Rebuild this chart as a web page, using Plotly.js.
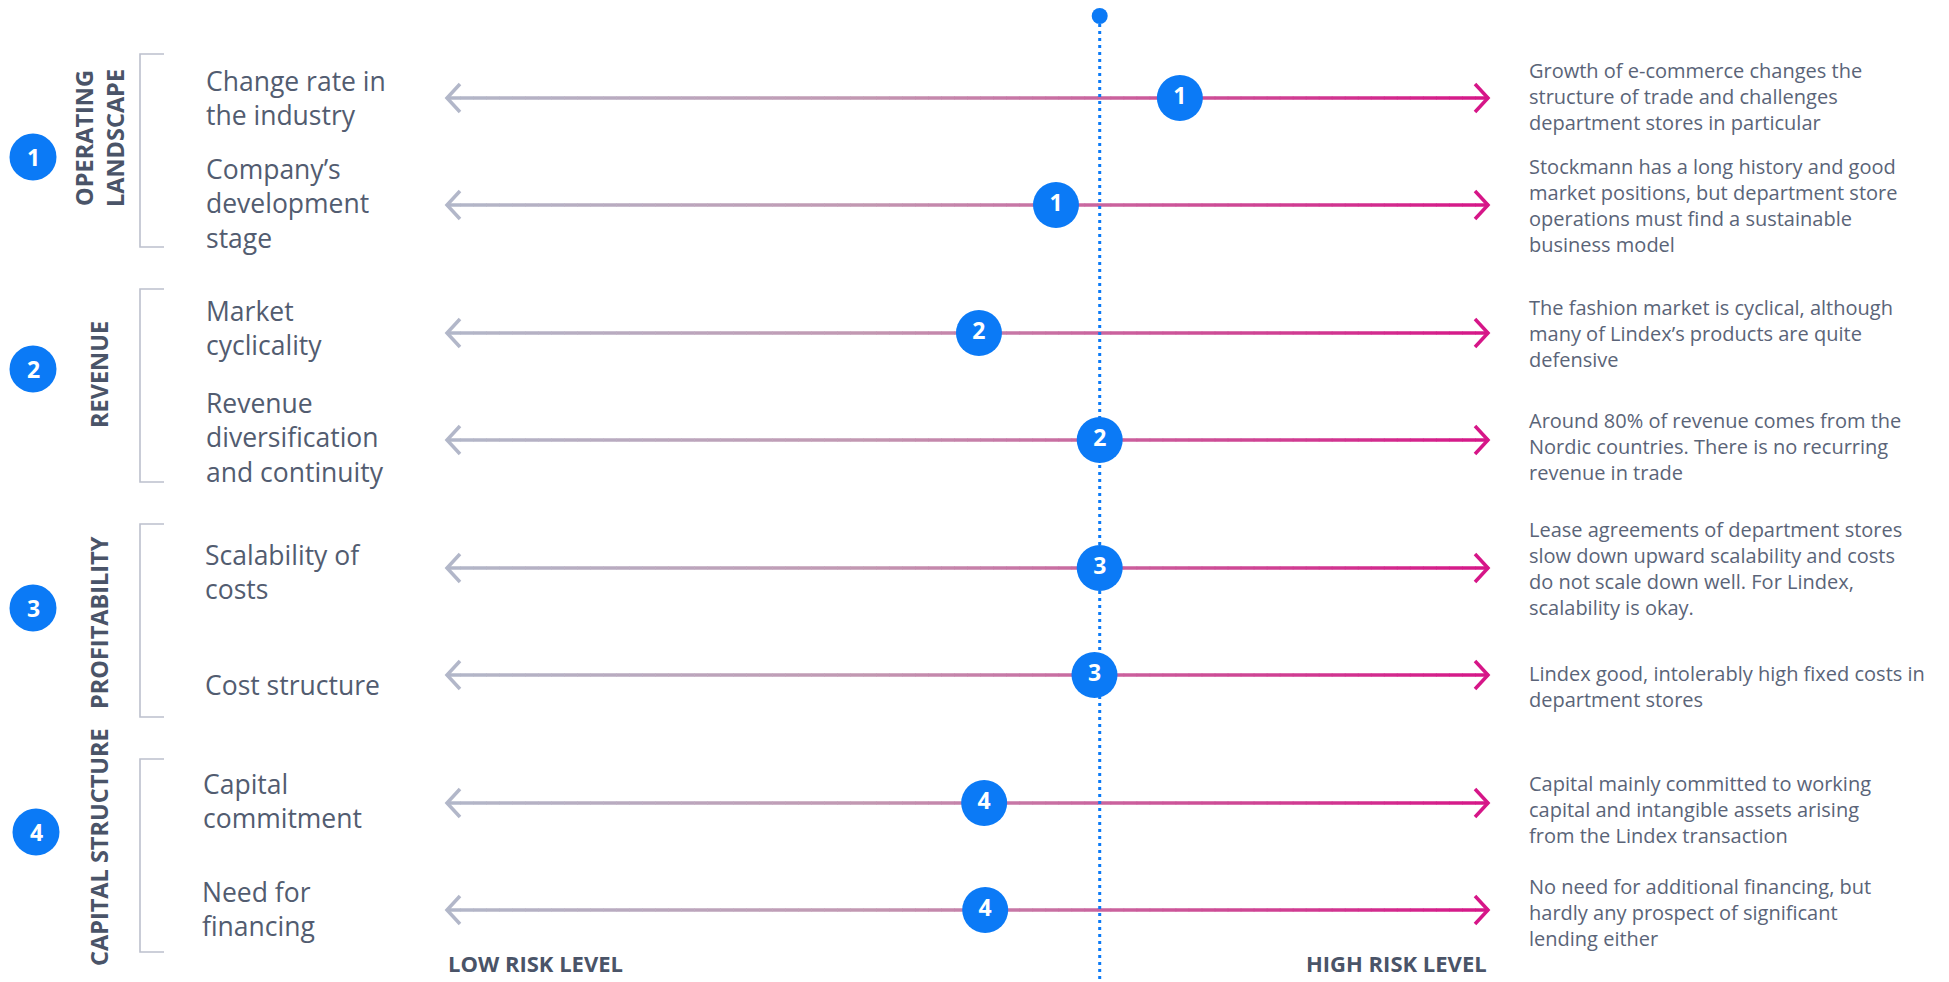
<!DOCTYPE html>
<html>
<head>
<meta charset="utf-8">
<script src="https://cdn.plot.ly/plotly-3.0.1.min.js"></script>
<style>
  html, body { margin: 0; padding: 0; background: #ffffff; }
  #chart { width: 1949px; height: 982px; }
</style>
</head>
<body>
<div id="chart"></div>
<script>
// ---------------- DATA ----------------
const groupNames = ['OPERATING<br>LANDSCAPE', 'REVENUE', 'PROFITABILITY', 'CAPITAL STRUCTURE'];
const groupNumbers = ['1', '2', '3', '4'];
const factors = [
  'Change rate in<br>the industry',
  'Company’s<br>development<br>stage',
  'Market<br>cyclicality',
  'Revenue<br>diversification<br>and continuity',
  'Scalability of<br>costs',
  'Cost structure',
  'Capital<br>commitment',
  'Need for<br>financing'
];
const factorGroup = [0, 0, 1, 1, 2, 2, 3, 3];
// risk level on a 0 (low) .. 100 (high) scale
const riskLevel = [70.4, 58.5, 51.1, 62.7, 62.7, 62.2, 51.6, 51.7];
const referenceLevel = 62.7;
const descriptions = [
  'Growth of e-commerce changes the<br>structure of trade and challenges<br>department stores in particular',
  'Stockmann has a long history and good<br>market positions, but department store<br>operations must find a sustainable<br>business model',
  'The fashion market is cyclical, although<br>many of Lindex’s products are quite<br>defensive',
  'Around 80% of revenue comes from the<br>Nordic countries. There is no recurring<br>revenue in trade',
  'Lease agreements of department stores<br>slow down upward scalability and costs<br>do not scale down well. For Lindex,<br>scalability is okay.',
  'Lindex good, intolerably high fixed costs in<br>department stores',
  'Capital mainly committed to working<br>capital and intangible assets arising<br>from the Lindex transaction',
  'No need for additional financing, but<br>hardly any prospect of significant<br>lending either'
];
const scaleLabels = ['LOW RISK LEVEL', 'HIGH RISK LEVEL'];
const scaleMin = 0;
const scaleMax = 100;

// ---------------- LAYOUT CONSTANTS ----------------
const W = 1949, H = 982;
const ARROW_L = 447, ARROW_R = 1488;             // pixel ends of the risk scale
const S = (ARROW_R - ARROW_L) / (scaleMax - scaleMin); // px per unit
const FONT = '"Open Sans", Lato, sans-serif';
const TEXT = '#525c70';
const BLUE = '#0b7af6';
const px = v => v / W;
const rowInGroup = [];
{ const seen = {}; factorGroup.forEach((g) => { seen[g] = (seen[g] || 0); rowInGroup.push(seen[g]); seen[g]++; }); }
const rowY = factorGroup.map((g, i) => 98 + g * 235 + rowInGroup[i] * 107);
const labelShift = [0, -2, -5, -3, 4, 10, -2, -1];
const labelX = [204, 204, 204, 204, 203, 203, 201, 200];
const descShift  = [-2, 0, 0, 6, 0, 11, 6, 2];
const groupLabelY = [138, 375, 623, 847];
const groupCircleY = [157, 369, 608, 832];
const groupCircleX = [33, 33, 33, 36];

const stops = [
  [0.0, [178, 183, 201]],
  [0.4, [194, 152, 178]],
  [0.7, [204, 84, 152]],
  [1.0, [214, 22, 136]]
];
function colorAt(t) {
  for (let k = 0; k < stops.length - 1; k++) {
    const [t0, c0] = stops[k], [t1, c1] = stops[k + 1];
    if (t <= t1) {
      const f = (t - t0) / (t1 - t0);
      const c = c0.map((v, j) => Math.round(v + (c1[j] - v) * f));
      return `rgb(${c[0]},${c[1]},${c[2]})`;
    }
  }
  const c = stops[stops.length - 1][1];
  return `rgb(${c[0]},${c[1]},${c[2]})`;
}

const shapes = [];
const annotations = [];
const N = 80;
rowY.forEach((y, i) => {
  for (let k = 0; k < N; k++) {
    const a = scaleMin + (scaleMax - scaleMin) * k / N;
    const b = scaleMin + (scaleMax - scaleMin) * (k + 1) / N;
    shapes.push({type: 'line', xref: 'x', yref: 'y', x0: a, x1: b + 0.05, y0: y, y1: y,
      line: {color: colorAt((k + 0.5) / N), width: 3.5}, layer: 'below'});
  }
  const d = 13 / S;
  shapes.push({type: 'path', xref: 'x', yref: 'y', layer: 'below',
    path: `M ${scaleMin + d} ${y - 14} L ${scaleMin} ${y} L ${scaleMin + d} ${y + 14}`,
    line: {color: colorAt(0), width: 3.5}});
  shapes.push({type: 'path', xref: 'x', yref: 'y', layer: 'below',
    path: `M ${scaleMax - d} ${y - 14} L ${scaleMax} ${y} L ${scaleMax - d} ${y + 14}`,
    line: {color: colorAt(1), width: 3.5}});

  annotations.push({xref: 'paper', yref: 'y', x: px(labelX[i]), y: y + labelShift[i], xanchor: 'left', yanchor: 'middle',
    align: 'left', text: factors[i], showarrow: false, font: {family: FONT, size: 26.5, color: TEXT}});
  annotations.push({xref: 'paper', yref: 'y', x: px(1527), y: y + descShift[i], xanchor: 'left', yanchor: 'middle',
    align: 'left', text: descriptions[i], showarrow: false, font: {family: FONT, size: 20, color: '#5a6478'}});
});

// reference dotted line + top dot
shapes.push({type: 'line', xref: 'x', yref: 'y', x0: referenceLevel, x1: referenceLevel, y0: 24, y1: H,
  line: {color: BLUE, width: 3, dash: '3px,4px'}, layer: 'below'});
shapes.push({type: 'circle', xref: 'x', yref: 'y', xsizemode: 'pixel', xanchor: referenceLevel,
  x0: -8, x1: 8, y0: 8, y1: 24, fillcolor: BLUE, line: {width: 0}, layer: 'below'});

// group brackets, circles, labels
groupNames.forEach((name, g) => {
  const ys = rowY.filter((_, i) => factorGroup[i] === g);
  const top = Math.min(...ys) - 44, bot = Math.max(...ys) + 42;
  shapes.push({type: 'path', xref: 'paper', yref: 'y',
    path: `M ${px(164)} ${top} L ${px(140)} ${top} L ${px(140)} ${bot} L ${px(164)} ${bot}`,
    line: {color: '#bcc0cd', width: 1.6}});
  const cx = groupCircleX[g], cy = groupCircleY[g], r = 23.5;
  shapes.push({type: 'circle', xref: 'paper', yref: 'y', x0: px(cx - r), x1: px(cx + r), y0: cy - r, y1: cy + r,
    fillcolor: BLUE, line: {width: 0}});
  annotations.push({xref: 'paper', yref: 'y', x: px(cx), y: cy, xanchor: 'center', yanchor: 'middle',
    text: '<b>' + groupNumbers[g] + '</b>', showarrow: false, font: {family: FONT, size: 23, color: '#ffffff'}});
  annotations.push({xref: 'paper', yref: 'y', x: px(99), y: groupLabelY[g], xanchor: 'center', yanchor: 'middle',
    textangle: -90, text: '<b>' + name + '</b>', showarrow: false, font: {family: FONT, size: 23.5, color: '#4a5468'}});
});

// scale labels
annotations.push({xref: 'x', yref: 'y', x: scaleMin, y: 963, xanchor: 'left', yanchor: 'middle', borderpad: 0,
  text: '<b>' + scaleLabels[0] + '</b>', showarrow: false, font: {family: FONT, size: 22, color: '#4a5468'}});
annotations.push({xref: 'x', yref: 'y', x: scaleMax, y: 963, xanchor: 'right', yanchor: 'middle', borderpad: 0,
  text: '<b>' + scaleLabels[1] + '</b>', showarrow: false, font: {family: FONT, size: 22, color: '#4a5468'}});

const trace = {
  type: 'scatter',
  mode: 'markers+text',
  x: riskLevel,
  y: rowY,
  text: factorGroup.map(g => '<b>' + groupNumbers[g] + '</b>'),
  textposition: 'middle center',
  textfont: {family: FONT, size: 23, color: '#ffffff'},
  marker: {size: 46, color: BLUE, line: {width: 0}},
  hoverinfo: 'skip',
  cliponaxis: false
};

const layout = {
  width: W, height: H,
  margin: {l: 0, r: 0, t: 0, b: 0},
  paper_bgcolor: '#ffffff', plot_bgcolor: '#ffffff',
  showlegend: false,
  xaxis: {range: [scaleMin - ARROW_L / S, scaleMin + (W - ARROW_L) / S], visible: false, fixedrange: true},
  yaxis: {range: [H, 0], visible: false, fixedrange: true},
  shapes: shapes,
  annotations: annotations,
  hovermode: false
};

Plotly.newPlot('chart', [trace], layout, {displayModeBar: false, staticPlot: true});
</script>
</body>
</html>
